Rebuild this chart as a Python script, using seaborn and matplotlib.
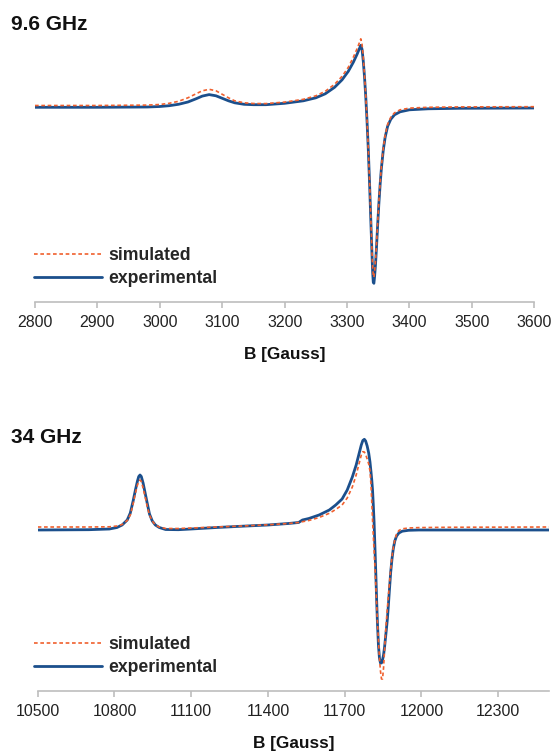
import matplotlib
matplotlib.use("Agg")
import matplotlib.pyplot as plt
import seaborn as sns
import pandas as pd

# X-band (9.6 GHz) spectrum
x_field = [2800, 2900, 2980, 3000, 3015, 3030, 3045, 3058, 3068, 3079, 3090, 3100,
           3110, 3120, 3135, 3150, 3170, 3200, 3230, 3250, 3265, 3280, 3292, 3302,
           3310, 3316, 3320, 3322, 3324, 3326, 3328, 3330, 3332, 3334, 3336, 3338,
           3340, 3341, 3342, 3343, 3344, 3345.5, 3347, 3349, 3351, 3353, 3355, 3358,
           3361, 3365, 3370, 3376, 3385, 3400, 3430, 3480, 3600]
x_exp = [0, 0, 0.3, 0.8, 1.6, 3, 5.3, 8.5, 11.2, 12.7, 11.5, 9,
         6.5, 4.5, 3, 2.6, 2.6, 4, 6.5, 9.5, 13.5, 20, 27.5, 36,
         45, 53, 59, 62, 58, 46, 30, 10, -14, -42, -75, -112,
         -148, -165, -175, -176, -170, -158, -142, -118, -96, -77, -61, -43,
         -30, -19, -12, -7.5, -4.5, -2.5, -1.5, -1, -0.7]
x_sim = [1.8, 1.8, 2.2, 2.8, 4, 6, 9.5, 13.5, 16.5, 18, 16.5, 13,
         9.5, 6.5, 4.5, 3.8, 3.7, 5.2, 8, 11.5, 16, 23, 31, 40,
         50, 58.5, 65, 68.5, 63, 50, 32, 11, -13, -41, -73, -110,
         -145, -160, -168, -170, -165, -154, -139, -116, -94, -75, -59, -41,
         -28, -17, -10, -5.5, -2.5, -0.8, 0, 0.4, 0.6]

# Q-band (34 GHz) spectrum
q_field = [10500, 10700, 10780, 10810, 10830, 10850, 10862, 10873, 10882, 10890,
           10895, 10900, 10905, 10912, 10920, 10928, 10937, 10948, 10960, 10975,
           11000, 11050, 11100, 11200, 11300, 11400, 11480, 11520, 11535, 11560,
           11600, 11640, 11665, 11690, 11710, 11730, 11745, 11757, 11765, 11771,
           11777, 11782, 11788, 11794, 11799, 11803, 11806, 11809, 11812, 11815,
           11819, 11822, 11825, 11828, 11832, 11836, 11840, 11844, 11848, 11852,
           11856, 11860, 11864, 11867, 11871, 11875, 11880, 11885, 11890, 11896,
           11903, 11912, 11925, 11950, 11990, 12100, 12500]
q_exp = [0, 0.3, 1, 2.5, 5, 10, 17, 29, 40, 49,
         53.5, 55, 53.5, 47, 37, 27, 16, 9, 5, 2.5,
         0.5, 0.3, 1, 2.5, 3.8, 5, 6.5, 7.5, 10, 11.5,
         15, 20, 25, 31, 40, 53, 65, 77, 85, 89.5,
         90.7, 89, 84, 77, 68, 58, 50, 40, 25, 8,
         -22, -45, -70, -92, -115, -128, -133, -133, -130, -125,
         -117, -107, -97, -89, -75, -60, -42, -29, -19, -11,
         -6, -3, -1.2, -0.3, 0, 0, 0]
q_sim = [3, 3, 3.2, 4, 5.5, 9.5, 15, 26, 37, 45,
         48.5, 50, 48.5, 42, 33, 24, 15, 9, 5, 3,
         1.5, 1.5, 2, 3, 4, 5.2, 6.5, 7.5, 8.3, 9.5,
         12.5, 16.7, 20.5, 25, 32, 43, 55, 67, 75, 78.3,
         78, 75.5, 71, 66, 59, 45, 28, 10, -6, -20,
         -40, -57, -74, -92, -110, -128, -141, -149, -149, -138,
         -120, -102, -88, -78, -66, -54, -39, -27, -18, -10,
         -4, -0.5, 1.2, 2, 2.4, 2.7, 3]

x_ticks = list(range(2800, 3601, 100))
q_ticks = list(range(10500, 12301, 300))

EXP_COLOR = "#1b4f8c"
SIM_COLOR = "#f0602e"
AXIS_COLOR = "#bdbdbd"

sns.set_theme(style="white")
plt.rcParams["font.family"] = ["Liberation Sans", "DejaVu Sans"]

W, H = 552, 751
fig = plt.figure(figsize=(W / 100, H / 100), dpi=100)


def px_axes(left, right, top, bottom):
    # axes rectangle given in pixels from the top-left corner
    return fig.add_axes([left / W, 1 - bottom / H, (right - left) / W, (bottom - top) / H])


def draw_panel(ax, field, exp, sim, ticks, xlim, ylim, title, title_y, leg_y):
    df = pd.DataFrame({"B": field, "exp": exp, "sim": sim})
    sns.lineplot(data=df, x="B", y="exp", ax=ax, color=EXP_COLOR, lw=2.0,
                 label="experimental")
    sns.lineplot(data=df, x="B", y="sim", ax=ax, color=SIM_COLOR, lw=1.2,
                 ls=(0, (2.2, 1.6)), label="simulated")
    ax.set_xlim(*xlim)
    ax.set_ylim(*ylim)
    ax.set_xticks(ticks)
    ax.set_xticklabels([str(t) for t in ticks], fontsize=11.4, color="#222222")
    ax.set_yticks([])
    ax.set_ylabel("")
    ax.set_xlabel("B [Gauss]", fontsize=12.4, fontweight="bold", labelpad=12.5,
                  color="#111111")
    for s in ["left", "right", "top"]:
        ax.spines[s].set_visible(False)
    ax.spines["bottom"].set_color(AXIS_COLOR)
    ax.spines["bottom"].set_linewidth(1.2)
    ax.tick_params(axis="x", direction="out", length=4.3, width=1.2,
                   color=AXIS_COLOR, pad=5.3, bottom=True)
    ax.set_facecolor("none")

    h, l = ax.get_legend_handles_labels()
    ax.legend(h[::-1], l[::-1], loc="center left", frameon=False,
              bbox_to_anchor=(34 / W, 1 - leg_y / H), bbox_transform=fig.transFigure,
              prop={"weight": "bold", "size": 12.7}, handlelength=3.85,
              handletextpad=0.34, labelspacing=0.34, borderpad=0, borderaxespad=0)
    fig.text(11 / W, 1 - title_y / H, title, fontsize=15, fontweight="bold",
             va="baseline", ha="left", color="#111111")


ax1 = px_axes(35, 534.3, 30, 301.7)
draw_panel(ax1, x_field, x_exp, x_sim, x_ticks, (2800, 3600), (-194.4, 77.3),
           "9.6 GHz", 30.2, 266.7)

ax2 = px_axes(37.7, 549.3, 420, 690.7)
draw_panel(ax2, q_field, q_exp, q_sim, q_ticks, (10500, 12500), (-160.7, 110),
           "34 GHz", 443.5, 656.4)

fig.savefig("out.png", dpi=100, facecolor="white")
